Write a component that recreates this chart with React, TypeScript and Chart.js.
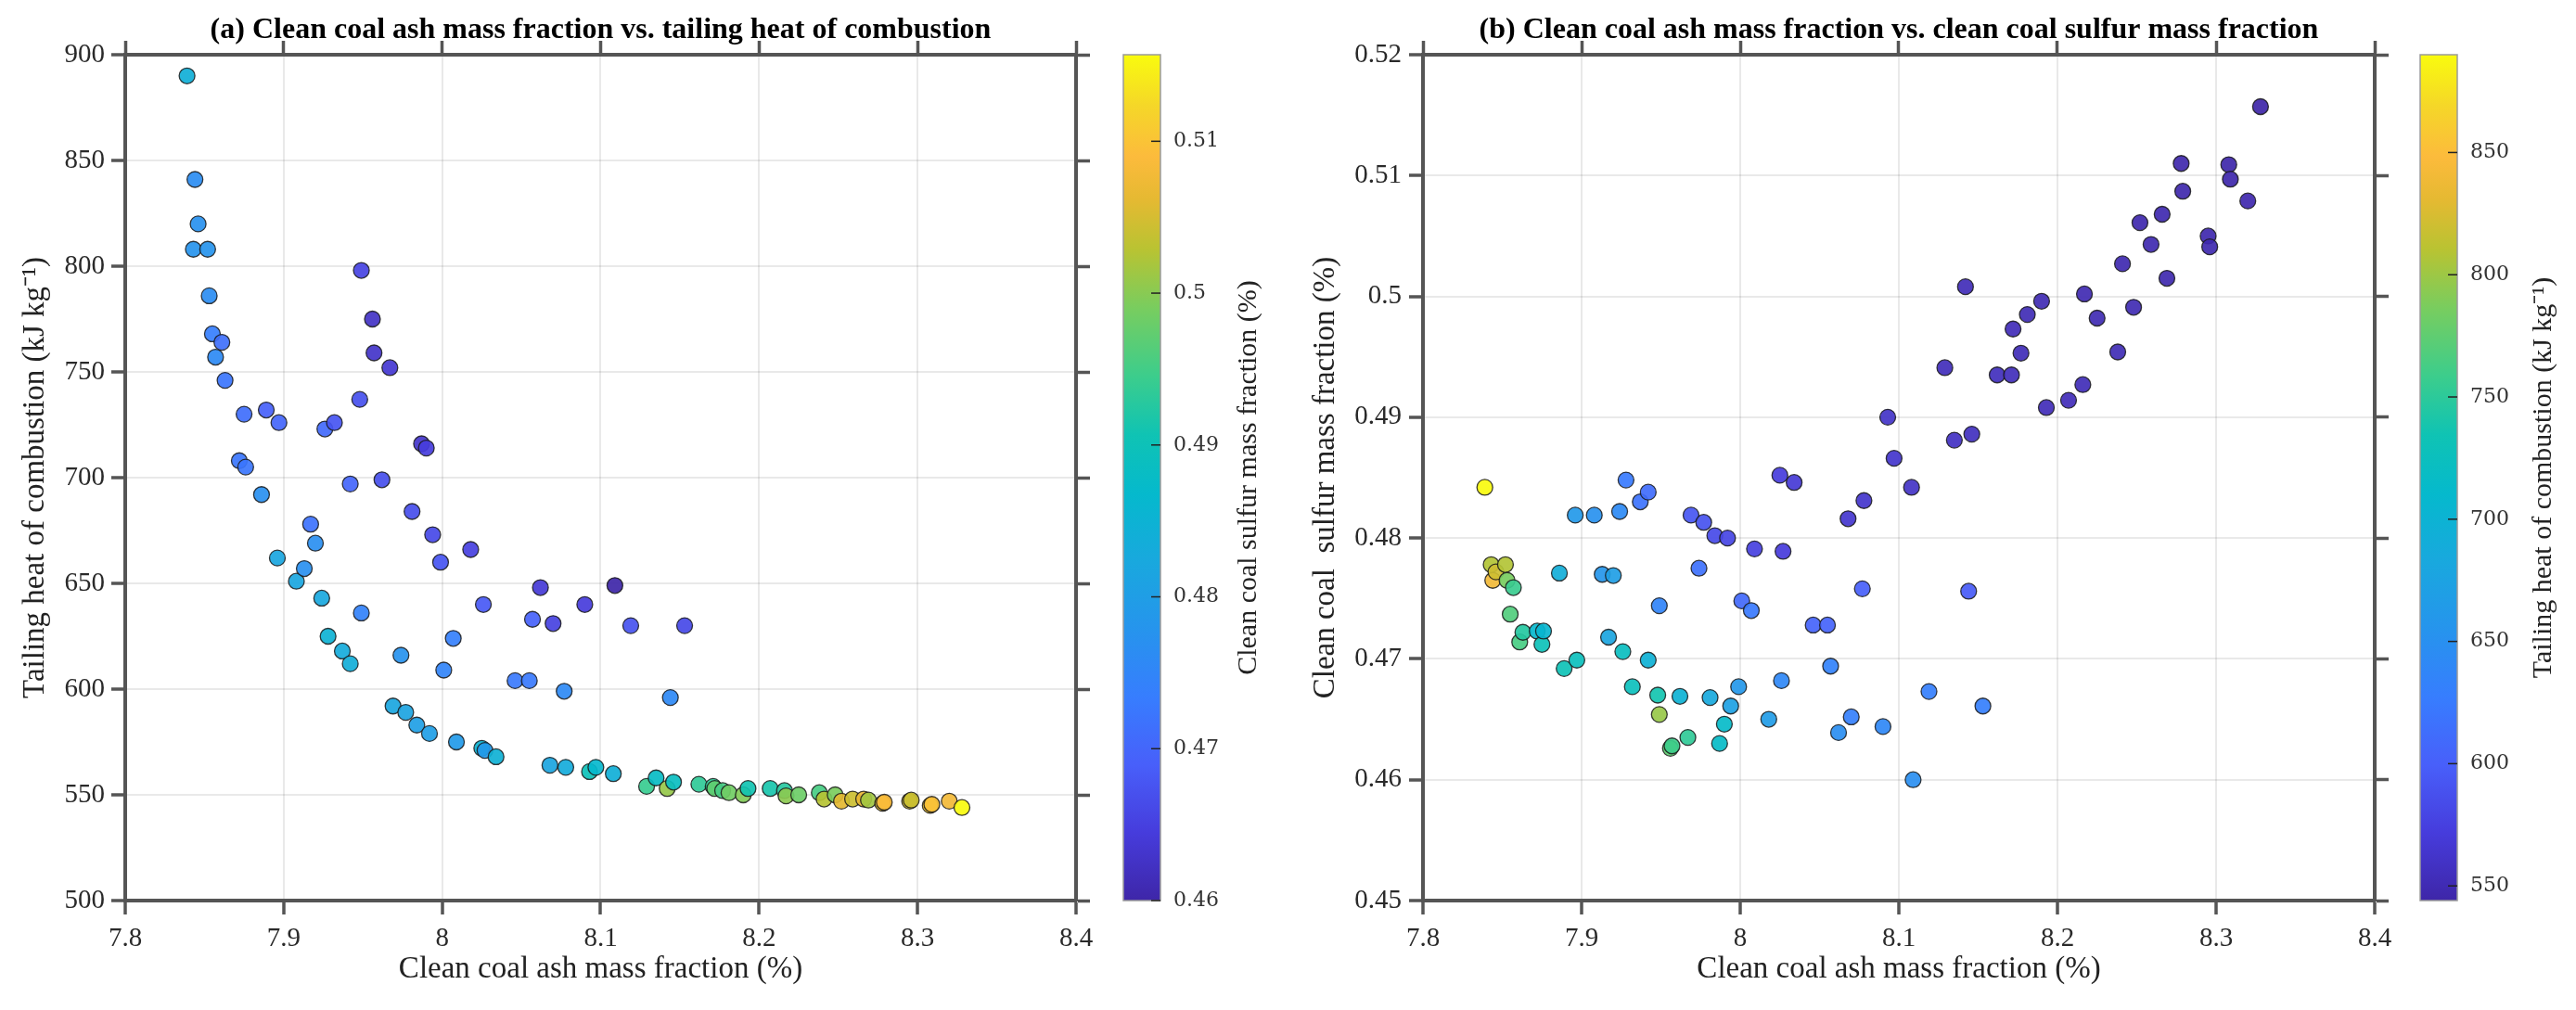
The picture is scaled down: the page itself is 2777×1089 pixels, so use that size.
import { useEffect, useRef } from 'react';
import { Chart, registerables } from 'chart.js';

Chart.register(...registerables);

// Clean coal ash mass fraction (%) for each flotation sample
const ashFraction = [
  7.839, 7.844, 7.843, 7.846, 7.852, 7.853, 7.855, 7.857, 7.861, 7.863,
  7.872, 7.875, 7.876, 7.886, 7.889, 7.896, 7.897, 7.908, 7.913, 7.917,
  7.920, 7.924, 7.926, 7.928, 7.932, 7.937, 7.942, 7.942, 7.948, 7.949,
  7.949, 7.956, 7.957, 7.962, 7.967, 7.969, 7.974, 7.977, 7.981, 7.984,
  7.987, 7.990, 7.992, 7.994, 7.999, 8.001, 8.007, 8.009, 8.018, 8.025,
  8.026, 8.027, 8.034, 8.046, 8.055, 8.057, 8.062, 8.068, 8.070, 8.077,
  8.078, 8.090, 8.093, 8.097, 8.108, 8.109, 8.119, 8.129, 8.135, 8.142,
  8.144, 8.146, 8.153, 8.162, 8.171, 8.172, 8.177, 8.181, 8.190, 8.193,
  8.207, 8.216, 8.217, 8.225, 8.238, 8.241, 8.248, 8.252, 8.259, 8.266,
  8.269, 8.278, 8.279, 8.295, 8.296, 8.308, 8.309, 8.320, 8.328,
];

// Tailing heat of combustion (kJ/kg)
const tailingHeat = [
  890, 841, 808, 820, 808, 786, 768, 757, 764, 746,
  708, 730, 705, 692, 732, 662, 726, 651, 657, 678,
  669, 643, 723, 625, 726, 618, 697, 612, 737, 798,
  636, 775, 759, 699, 752, 592, 616, 589, 684, 583,
  716, 714, 579, 673, 660, 609, 624, 575, 666, 572,
  640, 571, 568, 604, 604, 633, 648, 564, 631, 599,
  563, 640, 561, 563, 560, 649, 630, 554, 558, 553,
  596, 556, 630, 555, 554, 553, 552, 551, 550, 553,
  553, 552, 549.5, 550, 551, 548, 550, 547, 548, 548,
  547.5, 546, 546.5, 547, 547.5, 545, 545.5, 547, 544,
];

// Clean coal sulfur mass fraction (%)
const sulfurFraction = [
  0.4842, 0.4765, 0.4778, 0.4772, 0.4778, 0.4765, 0.4737, 0.4759, 0.4714, 0.4722,
  0.4723, 0.4712, 0.4723, 0.4771, 0.4692, 0.4819, 0.4699, 0.4819, 0.4770, 0.4718,
  0.4769, 0.4822, 0.4706, 0.4848, 0.4677, 0.4830, 0.4699, 0.4838, 0.4670, 0.4654,
  0.4744, 0.4626, 0.4628, 0.4669, 0.4635, 0.4819, 0.4775, 0.4813, 0.4668, 0.4802,
  0.4630, 0.4646, 0.4800, 0.4661, 0.4677, 0.4748, 0.4740, 0.4791, 0.4650, 0.4852,
  0.4682, 0.4789, 0.4846, 0.4728, 0.4728, 0.4694, 0.4639, 0.4816, 0.4652, 0.4758,
  0.4831, 0.4644, 0.4900, 0.4866, 0.4842, 0.4600, 0.4673, 0.4941, 0.4881, 0.5008,
  0.4756, 0.4886, 0.4661, 0.4935, 0.4935, 0.4973, 0.4953, 0.4985, 0.4996, 0.4908,
  0.4914, 0.4927, 0.5002, 0.4982, 0.4954, 0.5027, 0.4991, 0.5061, 0.5043, 0.5068,
  0.5015, 0.5110, 0.5087, 0.5050, 0.5041, 0.5109, 0.5097, 0.5079, 0.5157,
];

const ashTicks = [7.8, 7.9, 8.0, 8.1, 8.2, 8.3, 8.4];
const heatTicks = [500, 550, 600, 650, 700, 750, 800, 850, 900];
const sulfurTicks = [0.45, 0.46, 0.47, 0.48, 0.49, 0.5, 0.51, 0.52];
const sulfurBarTicks = [0.46, 0.47, 0.48, 0.49, 0.5, 0.51];
const heatBarTicks = [550, 600, 650, 700, 750, 800, 850];

// parula-like colour ramp: [position, r, g, b]
const PARULA: [number, number, number, number][] = [
  [0.0, 62, 38, 168],
  [0.08, 70, 60, 220],
  [0.16, 72, 95, 250],
  [0.24, 55, 125, 254],
  [0.32, 38, 148, 237],
  [0.4, 25, 168, 222],
  [0.48, 5, 185, 205],
  [0.55, 15, 195, 180],
  [0.62, 60, 205, 140],
  [0.7, 120, 205, 95],
  [0.77, 185, 195, 50],
  [0.83, 230, 185, 50],
  [0.88, 252, 187, 60],
  [0.94, 245, 215, 40],
  [1.0, 249, 251, 14],
];

function parula(t: number, alpha = 1): string {
  const u = Math.max(0, Math.min(1, t));
  for (let i = 1; i < PARULA.length; i++) {
    const [p1, r1, g1, b1] = PARULA[i];
    const [p0, r0, g0, b0] = PARULA[i - 1];
    if (u <= p1) {
      const f = (u - p0) / (p1 - p0);
      const r = Math.round(r0 + (r1 - r0) * f);
      const g = Math.round(g0 + (g1 - g0) * f);
      const b = Math.round(b0 + (b1 - b0) * f);
      return `rgba(${r},${g},${b},${alpha})`;
    }
  }
  const [, r, g, b] = PARULA[PARULA.length - 1];
  return `rgba(${r},${g},${b},${alpha})`;
}

const SERIF = '"Liberation Serif", "Times New Roman", serif';
const H = 1089;
const AXIS = '#555555';
const GRID = 'rgba(0,0,0,0.085)';

interface PanelSpec {
  title: string;
  xTitle: string;
  yTitle: string;
  cbTitle: string;
  yValues: number[];
  colorValues: number[];
  yTicks: number[];
  cbTicks: number[];
  fmtY: (v: number) => string;
  fmtCb: (v: number) => string;
  canvasLeft: number;
  canvasWidth: number;
  plotLeft: number;
  plotRight: number;
  plotTop: number;
  plotBottom: number;
  yTitleX: number;
  yTickPad: number;
  barX: [number, number];
  cbTitleX: number;
}

const fmtNum = (digits: number) => (v: number) => String(Number(v.toFixed(digits)));

function decorPlugin(spec: PanelSpec) {
  return {
    id: 'panelDecor',
    afterDraw(chart: Chart) {
      const { ctx, chartArea } = chart;
      const { top, bottom, left, right } = chartArea;
      ctx.save();
      // panel title
      ctx.fillStyle = '#000';
      ctx.font = `bold 32px ${SERIF}`;
      ctx.textAlign = 'center';
      ctx.textBaseline = 'alphabetic';
      ctx.fillText(spec.title, (left + right) / 2, 41);

      // colour bar
      const [x0, x1] = spec.barX;
      const grad = ctx.createLinearGradient(0, bottom, 0, top);
      PARULA.forEach(([t, r, g, b]) => grad.addColorStop(t, `rgb(${r},${g},${b})`));
      ctx.fillStyle = grad;
      ctx.fillRect(x0, top, x1 - x0, bottom - top);
      ctx.strokeStyle = '#9a9a9a';
      ctx.lineWidth = 1.5;
      ctx.strokeRect(x0, top, x1 - x0, bottom - top);

      const lo = Math.min(...spec.colorValues);
      const hi = Math.max(...spec.colorValues);
      const toY = (v: number) => bottom - ((v - lo) / (hi - lo)) * (bottom - top);
      ctx.strokeStyle = '#222';
      ctx.lineWidth = 1.5;
      ctx.fillStyle = '#333';
      ctx.font = '22px "DejaVu Serif", serif';
      ctx.textAlign = 'left';
      ctx.textBaseline = 'middle';
      spec.cbTicks.forEach((v) => {
        const y = toY(v);
        ctx.beginPath();
        ctx.moveTo(x1 - 10, y);
        ctx.lineTo(x1, y);
        ctx.stroke();
        ctx.fillText(spec.fmtCb(v), x1 + 14, y);
      });

      // colour bar label
      ctx.translate(spec.cbTitleX, (top + bottom) / 2);
      ctx.rotate(-Math.PI / 2);
      ctx.fillStyle = '#222';
      ctx.font = `30px ${SERIF}`;
      ctx.textAlign = 'center';
      ctx.textBaseline = 'middle';
      ctx.fillText(spec.cbTitle, 0, 0);
      ctx.restore();
    },
  };
}

function buildConfig(spec: PanelSpec): any {
  const lo = Math.min(...spec.colorValues);
  const hi = Math.max(...spec.colorValues);
  const yMin = spec.yTicks[0];
  const yMax = spec.yTicks[spec.yTicks.length - 1];
  const tickFont = { family: SERIF, size: 29 };
  const titleFont = { family: SERIF, size: 33 };
  const setTicks = (vals: number[]) => (s: any) => {
    s.ticks = vals.map((value) => ({ value }));
  };
  const rightW = spec.canvasWidth - spec.plotRight;
  const bottomH = H - spec.plotBottom;
  const frame = { display: true, color: AXIS, width: 4 };

  return {
    type: 'scatter',
    data: {
      datasets: [
        {
          data: ashFraction.map((x, i) => ({ x, y: spec.yValues[i] })),
          backgroundColor: spec.colorValues.map((c) => parula((c - lo) / (hi - lo), 0.92)),
          borderColor: 'rgba(25,25,25,0.85)',
          borderWidth: 1.3,
          pointRadius: 8.5,
          pointHoverRadius: 8.5,
        },
      ],
    },
    options: {
      responsive: false,
      maintainAspectRatio: false,
      animation: false,
      devicePixelRatio: 1,
      layout: { padding: 0, autoPadding: false },
      plugins: {
        legend: { display: false },
        tooltip: { enabled: false },
        title: { display: false },
      },
      scales: {
        x: {
          type: 'linear',
          position: 'bottom',
          min: ashTicks[0],
          max: ashTicks[ashTicks.length - 1],
          afterBuildTicks: setTicks(ashTicks),
          afterFit: (s: any) => {
            s.height = bottomH;
          },
          ticks: { font: tickFont, color: '#2a2a2a', padding: 9, callback: fmtNum(1), maxRotation: 0 },
          grid: { color: GRID, lineWidth: 2, tickColor: AXIS, tickLength: 15, tickWidth: 3.5 },
          border: frame,
          title: {
            display: true,
            text: spec.xTitle,
            font: titleFont,
            color: '#222',
            padding: { top: 0, bottom: 24 },
          },
        },
        xTop: {
          type: 'linear',
          position: 'top',
          min: ashTicks[0],
          max: ashTicks[ashTicks.length - 1],
          afterBuildTicks: setTicks(ashTicks),
          afterFit: (s: any) => {
            s.height = spec.plotTop;
          },
          ticks: { display: false },
          grid: { drawOnChartArea: false, tickColor: AXIS, tickLength: 15, tickWidth: 3.5 },
          border: frame,
        },
        y: {
          type: 'linear',
          position: 'left',
          min: yMin,
          max: yMax,
          afterBuildTicks: setTicks(spec.yTicks),
          afterFit: (s: any) => {
            s.width = spec.plotLeft;
          },
          ticks: { font: tickFont, color: '#2a2a2a', padding: spec.yTickPad, callback: spec.fmtY },
          grid: { color: GRID, lineWidth: 2, tickColor: AXIS, tickLength: 15, tickWidth: 3.5 },
          border: frame,
          title: {
            display: true,
            text: spec.yTitle,
            font: titleFont,
            color: '#222',
            padding: { top: spec.yTitleX - 19.8, bottom: 0 },
          },
        },
        yRight: {
          type: 'linear',
          position: 'right',
          min: yMin,
          max: yMax,
          afterBuildTicks: setTicks(spec.yTicks),
          afterFit: (s: any) => {
            s.width = rightW;
          },
          ticks: { display: false },
          grid: { drawOnChartArea: false, tickColor: AXIS, tickLength: 15, tickWidth: 3.5 },
          border: frame,
        },
      },
    },
    plugins: [decorPlugin(spec)],
  };
}

const panelA: PanelSpec = {
  title: '(a) Clean coal ash mass fraction vs. tailing heat of combustion',
  xTitle: 'Clean coal ash mass fraction (%)',
  yTitle: 'Tailing heat of combustion (kJ kg\u207B\u00B9)',
  cbTitle: 'Clean coal sulfur mass fraction (%)',
  yValues: tailingHeat,
  colorValues: sulfurFraction,
  yTicks: heatTicks,
  cbTicks: sulfurBarTicks,
  fmtY: fmtNum(0),
  fmtCb: fmtNum(2),
  canvasLeft: 0,
  canvasWidth: 1389,
  plotLeft: 135,
  plotRight: 1160,
  plotTop: 59,
  plotBottom: 971,
  yTitleX: 38,
  yTickPad: 7,
  barX: [1211, 1251],
  cbTitleX: 1346,
};

const panelB: PanelSpec = {
  title: '(b) Clean coal ash mass fraction vs. clean coal sulfur mass fraction',
  xTitle: 'Clean coal ash mass fraction (%)',
  yTitle: 'Clean coal  sulfur mass fraction (%)',
  cbTitle: 'Tailing heat of combustion (kJ kg\u207B\u00B9)',
  yValues: sulfurFraction,
  colorValues: tailingHeat,
  yTicks: sulfurTicks,
  cbTicks: heatBarTicks,
  fmtY: fmtNum(2),
  fmtCb: fmtNum(0),
  canvasLeft: 1389,
  canvasWidth: 1388,
  plotLeft: 145,
  plotRight: 1171,
  plotTop: 59,
  plotBottom: 971,
  yTitleX: 40,
  yTickPad: 8,
  barX: [1220, 1260],
  cbTitleX: 1353,
};

function Panel({ spec }: { spec: PanelSpec }) {
  const ref = useRef<HTMLCanvasElement>(null);
  useEffect(() => {
    const chart = new Chart(ref.current as HTMLCanvasElement, buildConfig(spec));
    return () => chart.destroy();
  }, [spec]);
  return (
    <canvas
      ref={ref}
      width={spec.canvasWidth}
      height={H}
      style={{
        position: 'absolute',
        left: spec.canvasLeft,
        top: 0,
        width: spec.canvasWidth,
        height: H,
      }}
    />
  );
}

export default function App() {
  return (
    <div
      style={{
        position: 'absolute',
        left: 0,
        top: 0,
        width: 2777,
        height: H,
        background: '#fff',
        overflow: 'hidden',
      }}
    >
      <Panel spec={panelA} />
      <Panel spec={panelB} />
    </div>
  );
}
